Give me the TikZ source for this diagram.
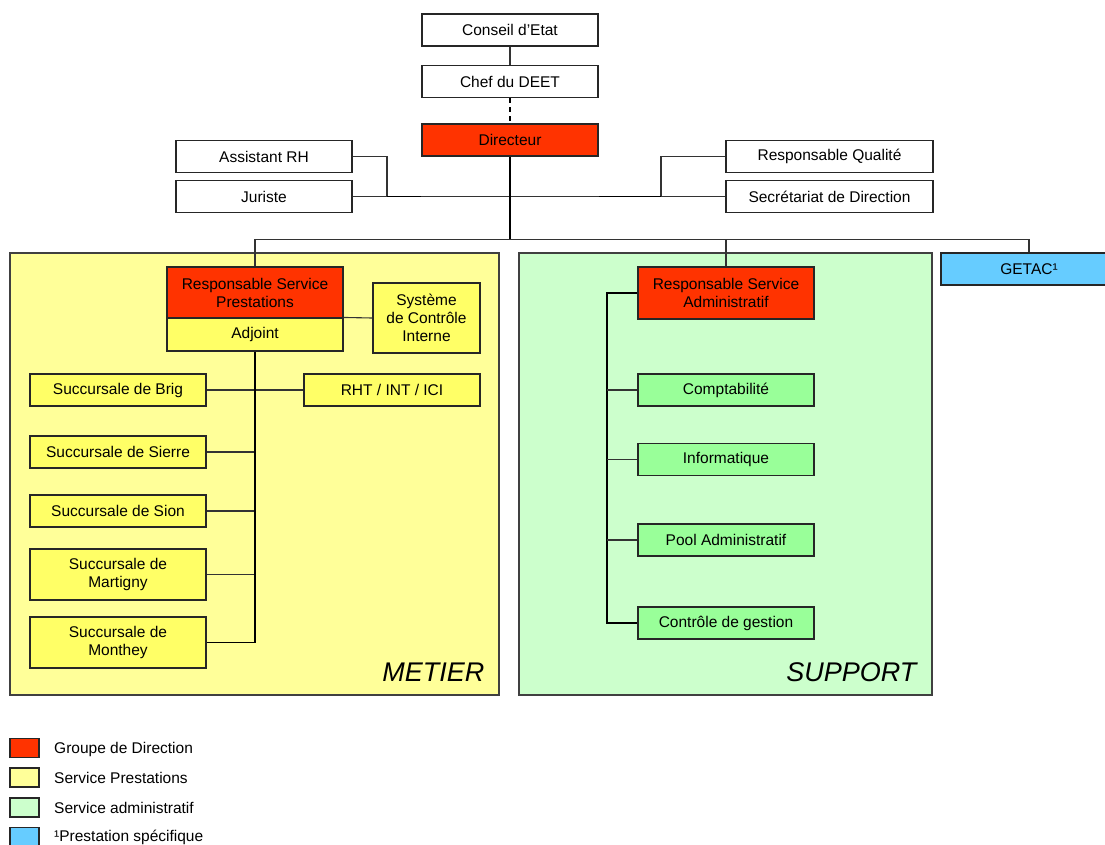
\documentclass[tikz,border=0pt]{standalone}
\usepackage{fontspec}
\setmainfont{Liberation Sans}
\definecolor{dirred}{HTML}{FF3300}
\definecolor{ybg}{HTML}{FFFF99}
\definecolor{ybox}{HTML}{FFFF66}
\definecolor{gbg}{HTML}{CCFFCC}
\definecolor{gbox}{HTML}{99FF99}
\definecolor{bbox}{HTML}{66CCFF}
\definecolor{linegray}{HTML}{333333}
\tikzset{
  box/.style={draw=black!85, line width=1.1pt, rectangle, minimum width=176, minimum height=32,
    inner sep=0pt, align=center, font=\fontsize{15.5}{18}\selectfont},
  redbox/.style={box, fill=dirred},
  ybx/.style={box, fill=ybox},
  gbx/.style={box, fill=gbox},
  area/.style={draw=black!75, line width=1.3pt},
  conn/.style={draw=linegray, line width=1.1pt},
  trunk/.style={draw=black, line width=1.8pt},
  bigtxt/.style={anchor=base east, font=\itshape\fontsize{27}{30}\selectfont},
  legsq/.style={draw=black!85, line width=1.1pt, minimum width=29, minimum height=19, inner sep=0pt},
  legtxt/.style={anchor=west, inner sep=0pt, font=\fontsize{15.5}{18}\selectfont}
}
\begin{document}
\begin{tikzpicture}[x=1pt,y=-1pt]
\path[use as bounding box, clip] (0,0) rectangle (1105,844);
\fill[white] (0,0) rectangle (1105,844);
% areas
\path[area, fill=ybg] (10,253) rectangle (499,695);
\path[area, fill=gbg] (519,253) rectangle (932,695);
\node[bigtxt] (metier) at (488,681) {METIER};
\node[bigtxt] (support) at (920,681) {SUPPORT};
% top
\node[box] (ce) at (510,30) {Conseil d’Etat};
\node[box] (chef) at (510,81.5) {Chef du DEET};
\node[redbox] (dir) at (510,140) {Directeur};
\node[box] (ar) at (264,156.5) {Assistant RH};
\node[box] (jur) at (264,196.5) {Juriste};
\node[box, minimum width=207] (rq) at (829.5,156.5) {Responsable Qualité};
\node[box, minimum width=207] (sec) at (829.5,196.5) {Secrétariat de Direction};
% metier
\node[redbox, minimum height=51] (rsp) at (255,292.5) {Responsable Service\\Prestations};
\node[ybx, minimum height=33] (adj) at (255,334.5) {Adjoint};
\node[ybx, minimum width=107, minimum height=70] (sci) at (426.5,318) {Système\\de Contrôle\\Interne};
\node[ybx] (brig) at (118,390) {Succursale de Brig};
\node[ybx] (rht) at (392,390) {RHT / INT / ICI};
\node[ybx] (sierre) at (118,452) {Succursale de Sierre};
\node[ybx] (sion) at (118,511) {Succursale de Sion};
\node[ybx, minimum height=51] (mart) at (118,574.5) {Succursale de\\Martigny};
\node[ybx, minimum height=51] (mon) at (118,642.5) {Succursale de\\Monthey};
% support
\node[redbox, minimum height=52] (rsa) at (726,293) {Responsable Service\\Administratif};
\node[gbx] (comp) at (726,390) {Comptabilité};
\node[gbx] (info) at (726,459.5) {Informatique};
\node[gbx] (pool) at (726,540) {Pool Administratif};
\node[gbx] (cg) at (726,623) {Contrôle de gestion};
% getac
\node[box, fill=bbox, minimum height=32] (getac) at (1029,269) {GETAC¹};
% connectors
\draw[conn] (ce) -- (chef);
\draw[trunk, dash pattern=on 5pt off 4pt] (chef) -- (dir);
\coordinate (bus) at (510,239.5);
\coordinate (jl) at (387,196.5);
\coordinate (jr) at (661,196.5);
\draw[conn] (jur.east) -- (sec.west);
\draw[conn] (ar.east) -| (jl);
\draw[trunk, line width=1.5pt] (jl) -- (jl -| dir.west);
\draw[conn] (rq.west) -| (jr);
\draw[trunk, line width=1.5pt] (jr) -- (jr -| dir.east);
\draw[trunk] (dir.south) -- (bus);
\draw[conn] (rsp.north) -- (rsp.north |- bus) -- (getac.north |- bus) -- (getac.north);
\draw[conn] (rsa.north) -- (rsa.north |- bus);
% metier connectors
\draw[conn] (adj.north east) -- (sci.west);
\draw[conn] (brig.east) -- (rht.west);
\draw[conn] (sierre.east) -- (sierre.east -| adj.south);
\draw[conn] (sion.east) -- (sion.east -| adj.south);
\draw[conn] (mart.east) -- (mart.east -| adj.south);
\draw[trunk] (adj.south) -- (adj.south |- mon.east) -- (mon.east);
% support connectors
\coordinate (sv) at (607,293);
\draw[trunk, line width=1.5pt] (rsa.west) -- (sv) |- (cg.west);
\draw[conn] (comp.west) -- (comp.west -| sv);
\draw[conn] (info.west) -- (info.west -| sv);
\draw[conn] (pool.west) -- (pool.west -| sv);
% legend
\node[legsq, fill=dirred] (l1) at (24.5,748) {};
\node[legsq, fill=ybg] (l2) at (24.5,777.5) {};
\node[legsq, fill=gbg] (l3) at (24.5,807.5) {};
\node[legsq, fill=bbox] (l4) at (24.5,837) {};
\node[legtxt] (t1) at (54,749) {Groupe de Direction};
\node[legtxt] (t2) at (54,778) {Service Prestations};
\node[legtxt] (t3) at (54,808) {Service administratif};
\node[legtxt] (t4) at (54,837) {¹Prestation spécifique};
\end{tikzpicture}
\end{document}
